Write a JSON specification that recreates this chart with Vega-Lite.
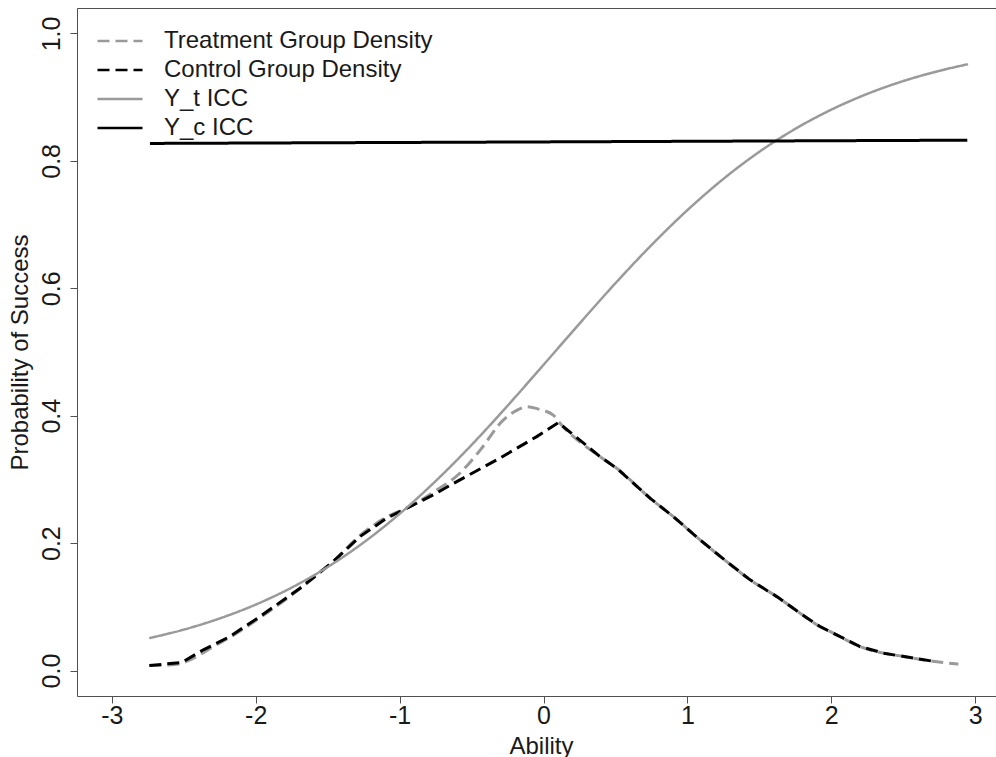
{
  "$schema": "https://vega.github.io/schema/vega-lite/v6.json",
  "autosize": {"type": "none"},
  "width": 919,
  "height": 688,
  "padding": {"left": 77, "top": 8, "right": 0, "bottom": 61},
  "background": "white",
  "config": {
    "view": {"stroke": null},
    "font": "Liberation Sans",
    "legend": {
      "orient": "none",
      "legendX": 31,
      "legendY": 21,
      "padding": 0,
      "symbolType": "M-3,0H3",
      "symbolSize": 225,
      "symbolStrokeWidth": 2.5,
      "labelFont": "Liberation Sans",
      "labelFontSize": 24,
      "labelColor": "#1a1a1a",
      "labelOffset": 32,
      "labelLimit": 0,
      "rowPadding": 5,
      "title": null
    }
  },
  "resolve": {"axis": {"x": "independent"}},
  "data": {
    "values": [
      {"series": "Treatment Group Density", "x": -2.739, "y": 0.0078},
      {"series": "Treatment Group Density", "x": -2.55, "y": 0.0100},
      {"series": "Treatment Group Density", "x": -2.41, "y": 0.0220},
      {"series": "Treatment Group Density", "x": -2.295, "y": 0.0377},
      {"series": "Treatment Group Density", "x": -2.179, "y": 0.0520},
      {"series": "Treatment Group Density", "x": -1.970, "y": 0.0830},
      {"series": "Treatment Group Density", "x": -1.692, "y": 0.1285},
      {"series": "Treatment Group Density", "x": -1.461, "y": 0.1715},
      {"series": "Treatment Group Density", "x": -1.275, "y": 0.2120},
      {"series": "Treatment Group Density", "x": -1.090, "y": 0.2410},
      {"series": "Treatment Group Density", "x": -0.928, "y": 0.2574},
      {"series": "Treatment Group Density", "x": -0.766, "y": 0.2800},
      {"series": "Treatment Group Density", "x": -0.580, "y": 0.3100},
      {"series": "Treatment Group Density", "x": -0.440, "y": 0.3460},
      {"series": "Treatment Group Density", "x": -0.280, "y": 0.3930},
      {"series": "Treatment Group Density", "x": -0.190, "y": 0.4080},
      {"series": "Treatment Group Density", "x": -0.117, "y": 0.4140},
      {"series": "Treatment Group Density", "x": -0.030, "y": 0.4100},
      {"series": "Treatment Group Density", "x": 0.068, "y": 0.4010},
      {"series": "Treatment Group Density", "x": 0.115, "y": 0.3880},
      {"series": "Treatment Group Density", "x": 0.393, "y": 0.3357},
      {"series": "Treatment Group Density", "x": 0.509, "y": 0.3175},
      {"series": "Treatment Group Density", "x": 0.740, "y": 0.2705},
      {"series": "Treatment Group Density", "x": 0.902, "y": 0.2416},
      {"series": "Treatment Group Density", "x": 1.088, "y": 0.2050},
      {"series": "Treatment Group Density", "x": 1.273, "y": 0.1710},
      {"series": "Treatment Group Density", "x": 1.436, "y": 0.1423},
      {"series": "Treatment Group Density", "x": 1.621, "y": 0.1160},
      {"series": "Treatment Group Density", "x": 1.783, "y": 0.0900},
      {"series": "Treatment Group Density", "x": 1.921, "y": 0.0690},
      {"series": "Treatment Group Density", "x": 2.014, "y": 0.0586},
      {"series": "Treatment Group Density", "x": 2.199, "y": 0.0376},
      {"series": "Treatment Group Density", "x": 2.361, "y": 0.0273},
      {"series": "Treatment Group Density", "x": 2.477, "y": 0.0230},
      {"series": "Treatment Group Density", "x": 2.720, "y": 0.0141},
      {"series": "Treatment Group Density", "x": 2.883, "y": 0.0100},
      {"series": "Control Group Density", "x": -2.739, "y": 0.0078},
      {"series": "Control Group Density", "x": -2.514, "y": 0.0126},
      {"series": "Control Group Density", "x": -2.364, "y": 0.0325},
      {"series": "Control Group Density", "x": -2.179, "y": 0.0534},
      {"series": "Control Group Density", "x": -1.970, "y": 0.0848},
      {"series": "Control Group Density", "x": -1.692, "y": 0.1292},
      {"series": "Control Group Density", "x": -1.461, "y": 0.1711},
      {"series": "Control Group Density", "x": -1.275, "y": 0.2103},
      {"series": "Control Group Density", "x": -1.090, "y": 0.2391},
      {"series": "Control Group Density", "x": -0.928, "y": 0.2574},
      {"series": "Control Group Density", "x": -0.766, "y": 0.2757},
      {"series": "Control Group Density", "x": -0.603, "y": 0.2966},
      {"series": "Control Group Density", "x": -0.325, "y": 0.3306},
      {"series": "Control Group Density", "x": -0.047, "y": 0.3672},
      {"series": "Control Group Density", "x": 0.103, "y": 0.3892},
      {"series": "Control Group Density", "x": 0.393, "y": 0.3357},
      {"series": "Control Group Density", "x": 0.509, "y": 0.3175},
      {"series": "Control Group Density", "x": 0.740, "y": 0.2705},
      {"series": "Control Group Density", "x": 0.902, "y": 0.2416},
      {"series": "Control Group Density", "x": 1.088, "y": 0.2050},
      {"series": "Control Group Density", "x": 1.273, "y": 0.1710},
      {"series": "Control Group Density", "x": 1.436, "y": 0.1423},
      {"series": "Control Group Density", "x": 1.621, "y": 0.1160},
      {"series": "Control Group Density", "x": 1.783, "y": 0.0900},
      {"series": "Control Group Density", "x": 1.921, "y": 0.0690},
      {"series": "Control Group Density", "x": 2.014, "y": 0.0586},
      {"series": "Control Group Density", "x": 2.199, "y": 0.0376},
      {"series": "Control Group Density", "x": 2.361, "y": 0.0273},
      {"series": "Control Group Density", "x": 2.477, "y": 0.0230},
      {"series": "Control Group Density", "x": 2.720, "y": 0.0141},
      {"series": "Y_t ICC", "x": -2.74, "y": 0.0508},
      {"series": "Y_t ICC", "x": -2.5, "y": 0.0642},
      {"series": "Y_t ICC", "x": -2.25, "y": 0.0818},
      {"series": "Y_t ICC", "x": -2.0, "y": 0.1035},
      {"series": "Y_t ICC", "x": -1.75, "y": 0.1302},
      {"series": "Y_t ICC", "x": -1.5, "y": 0.1625},
      {"series": "Y_t ICC", "x": -1.25, "y": 0.2010},
      {"series": "Y_t ICC", "x": -1.0, "y": 0.2460},
      {"series": "Y_t ICC", "x": -0.75, "y": 0.2973},
      {"series": "Y_t ICC", "x": -0.5, "y": 0.3541},
      {"series": "Y_t ICC", "x": -0.25, "y": 0.4156},
      {"series": "Y_t ICC", "x": 0.0, "y": 0.4798},
      {"series": "Y_t ICC", "x": 0.25, "y": 0.5446},
      {"series": "Y_t ICC", "x": 0.5, "y": 0.6080},
      {"series": "Y_t ICC", "x": 0.75, "y": 0.6678},
      {"series": "Y_t ICC", "x": 1.0, "y": 0.7227},
      {"series": "Y_t ICC", "x": 1.25, "y": 0.7717},
      {"series": "Y_t ICC", "x": 1.5, "y": 0.8143},
      {"series": "Y_t ICC", "x": 1.75, "y": 0.8503},
      {"series": "Y_t ICC", "x": 2.0, "y": 0.8804},
      {"series": "Y_t ICC", "x": 2.25, "y": 0.9052},
      {"series": "Y_t ICC", "x": 2.5, "y": 0.9253},
      {"series": "Y_t ICC", "x": 2.75, "y": 0.9413},
      {"series": "Y_t ICC", "x": 2.95, "y": 0.9518},
      {"series": "Y_c ICC", "x": -2.735, "y": 0.8274},
      {"series": "Y_c ICC", "x": -1.5, "y": 0.8285},
      {"series": "Y_c ICC", "x": 0.0, "y": 0.8298},
      {"series": "Y_c ICC", "x": 1.5, "y": 0.8312},
      {"series": "Y_c ICC", "x": 2.945, "y": 0.8325}
    ]
  },
  "encoding": {
    "y": {
      "field": "y", "type": "quantitative",
      "scale": {"domain": [-0.04, 1.04], "nice": false, "zero": false},
      "axis": {
        "values": [0, 0.2, 0.4, 0.6, 0.8, 1.0],
        "format": ".1f",
        "grid": false, "domain": true, "domainColor": "#505050",
        "tickSize": 7, "tickColor": "#505050",
        "labelFont": "Liberation Sans", "labelFontSize": 25, "labelColor": "#1a1a1a",
        "labelAngle": -90, "labelAlign": "center", "labelBaseline": "middle", "labelPadding": 19,
        "title": "Probability of Success",
        "titleFont": "Liberation Sans", "titleFontSize": 24, "titleFontWeight": "normal", "titleColor": "#1a1a1a",
        "titleAngle": -90, "titleX": -57, "titleY": 344, "titleBaseline": "middle", "titleAlign": "center"
      }
    },
    "color": {
      "field": "series", "type": "nominal",
      "scale": {
        "domain": ["Treatment Group Density", "Control Group Density", "Y_t ICC", "Y_c ICC"],
        "range": ["#9a9a9a", "#000000", "#9a9a9a", "#000000"]
      },
      "legend": {"title": null}
    },
    "strokeDash": {
      "field": "series", "type": "nominal",
      "scale": {
        "domain": ["Treatment Group Density", "Control Group Density", "Y_t ICC", "Y_c ICC"],
        "range": [[12, 6], [12, 6], [1, 0], [1, 0]]
      },
      "legend": {"title": null}
    }
  },
  "layer": [
    {
      "transform": [{"filter": "datum.series === 'Treatment Group Density'"}],
      "mark": {"type": "line", "strokeWidth": 3, "interpolate": "monotone"},
      "encoding": {
        "x": {
          "field": "x", "type": "quantitative",
          "scale": {"domain": [-3.242, 3.1445], "nice": false, "zero": false},
          "axis": {
            "values": [-3, -2, -1, 0, 1, 2, 3],
            "labelExpr": "'' + datum.value",
            "grid": false, "domain": true, "domainColor": "#505050",
            "tickSize": 7, "tickColor": "#505050",
            "labelFont": "Liberation Sans", "labelFontSize": 25, "labelColor": "#1a1a1a",
            "labelPadding": 0, "labelBaseline": "top",
            "title": "Ability",
            "titleFont": "Liberation Sans", "titleFontSize": 24, "titleFontWeight": "normal", "titleColor": "#1a1a1a",
            "titleX": 464, "titleY": 57, "titleBaseline": "alphabetic", "titleAlign": "center"
          }
        }
      }
    },
    {
      "transform": [{"filter": "datum.series === 'Control Group Density'"}],
      "mark": {"type": "line", "strokeWidth": 3},
      "encoding": {"x": {"field": "x", "type": "quantitative", "axis": null}}
    },
    {
      "transform": [{"filter": "datum.series === 'Y_t ICC'"}],
      "mark": {"type": "line", "strokeWidth": 2.5, "interpolate": "monotone"},
      "encoding": {"x": {"field": "x", "type": "quantitative", "axis": null}}
    },
    {
      "transform": [{"filter": "datum.series === 'Y_c ICC'"}],
      "mark": {"type": "line", "strokeWidth": 3},
      "encoding": {
        "x": {
          "field": "x", "type": "quantitative",
          "axis": {"orient": "top", "labels": false, "ticks": false, "grid": false, "domain": true, "domainColor": "#505050", "title": null}
        }
      }
    }
  ]
}
